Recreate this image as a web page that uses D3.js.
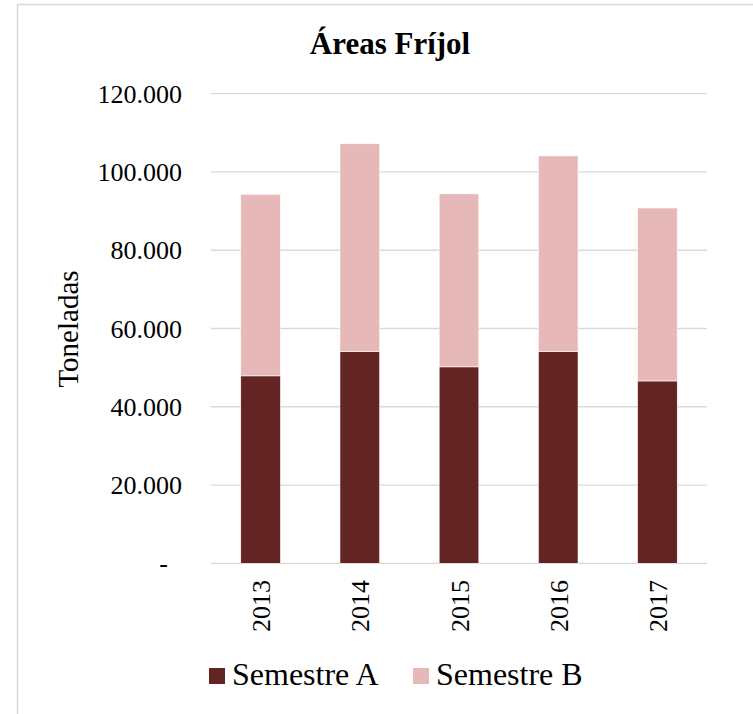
<!DOCTYPE html>
<html>
<head>
<meta charset="utf-8">
<script src="https://cdn.jsdelivr.net/npm/d3@7"></script>
<style>
  html, body { margin: 0; padding: 0; background: #fff; }
  svg { display: block; }
  text { font-family: "Liberation Serif", "Times New Roman", serif; fill: #000; }
</style>
</head>
<body>
<svg id="chart" width="753" height="714"></svg>
<script>
const title = "Áreas Fríjol";
const yAxisTitle = "Toneladas";
const years = ["2013", "2014", "2015", "2016", "2017"];
const seriesNames = ["Semestre A", "Semestre B"];
const semestreA = [47900, 54100, 50200, 54100, 46600];
const semestreB = [46400, 53100, 44200, 50000, 44200];
const yTicks = [0, 20000, 40000, 60000, 80000, 100000, 120000];
const colors = ["#632523", "#e6b8b7"];

const svg = d3.select("#chart");
const plot = { left: 211, right: 707, top: 93.7, bottom: 563.3 };

// chart frame (only top and left edges visible in the window)
svg.append("rect")
  .attr("x", 17.5).attr("y", 4.5)
  .attr("width", 900).attr("height", 900)
  .attr("fill", "none").attr("stroke", "#d9d9d9").attr("stroke-width", 1.5);

const x = d3.scaleBand().domain(years).range([plot.left, plot.right]).paddingInner(0.6).paddingOuter(0.3);
const y = d3.scaleLinear().domain([0, 120000]).range([plot.bottom, plot.top]);

// gridlines
svg.append("g").selectAll("line").data(yTicks).join("line")
  .attr("x1", plot.left).attr("x2", plot.right)
  .attr("y1", d => y(d)).attr("y2", d => y(d))
  .attr("stroke", "#d9d9d9").attr("stroke-width", 1.3);

// y tick labels
const fmt = d => d === 0 ? "-" : d3.format(",")(d).replace(/,/g, ".");
svg.append("g").selectAll("text").data(yTicks).join("text")
  .attr("x", d => d === 0 ? 168 : 182)
  .attr("y", d => y(d))
  .attr("dy", "0.35em")
  .attr("text-anchor", "end")
  .attr("font-size", 26)
  .text(fmt);

// stacked bars
const rows = years.map((yr, i) => ({ year: yr, a: semestreA[i], b: semestreB[i] }));
const stack = d3.stack().keys(["a", "b"])(rows);
stack.forEach((layer, li) => {
  svg.append("g").selectAll("rect").data(layer).join("rect")
    .attr("x", d => x(d.data.year))
    .attr("width", x.bandwidth())
    .attr("y", d => y(d[1]))
    .attr("height", d => y(d[0]) - y(d[1]))
    .attr("fill", colors[li])
    .attr("stroke", "#ffffff").attr("stroke-width", 0.6);
});

// x labels rotated
svg.append("g").selectAll("text").data(years).join("text")
  .attr("transform", d => `translate(${x(d) + x.bandwidth() / 2 + 9.5},580) rotate(-90)`)
  .attr("text-anchor", "end")
  .attr("font-size", 26)
  .text(d => d);

// title
svg.append("text")
  .attr("x", 390).attr("y", 54)
  .attr("text-anchor", "middle")
  .attr("font-size", 31).attr("font-weight", "bold")
  .text(title);

// y axis title
svg.append("text")
  .attr("transform", "translate(77.5,329) rotate(-90)")
  .attr("text-anchor", "middle")
  .attr("font-size", 29)
  .text(yAxisTitle);

// legend
const legendX = [209, 413];
const lg = svg.append("g");
seriesNames.forEach((name, i) => {
  lg.append("rect").attr("x", legendX[i]).attr("y", 668).attr("width", 16).attr("height", 16).attr("fill", colors[i]);
  lg.append("text").attr("x", legendX[i] + 23).attr("y", 685).attr("font-size", 32).text(name);
});
</script>
</body>
</html>
